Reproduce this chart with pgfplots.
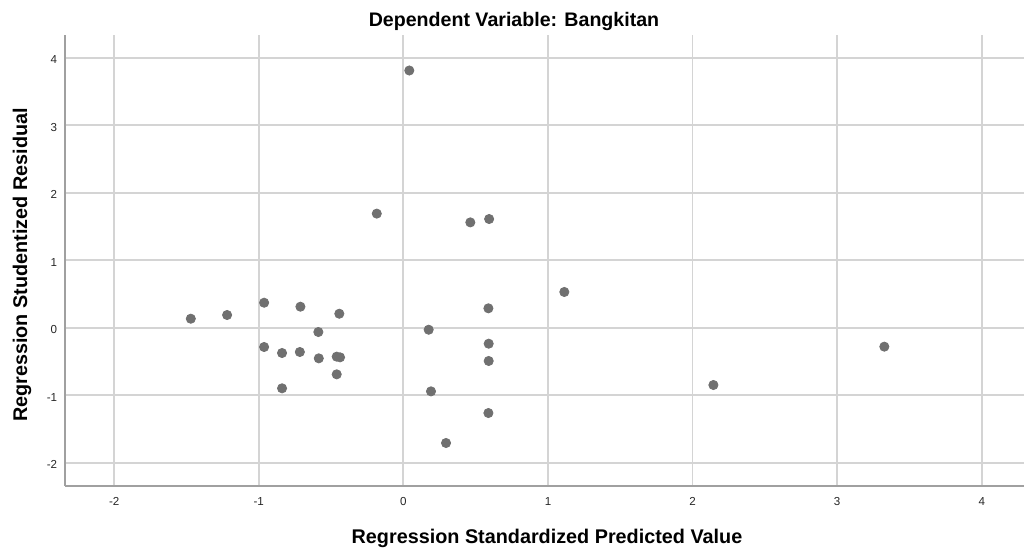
\documentclass[border=0pt]{standalone}
\usepackage{fontspec}
\setmainfont{Liberation Sans}
\usepackage{pgfplots}
\pgfplotsset{compat=1.18}
\definecolor{gridc}{HTML}{D4D4D4}
\definecolor{axc}{HTML}{A0A0A0}
\definecolor{dotc}{HTML}{707070}
\begin{document}
\begin{tikzpicture}
\path[use as bounding box] (0,0) rectangle (512pt,275.5pt);
\begin{axis}[
  at={(32.5pt,32.5pt)}, anchor=south west,
  scale only axis, width=479.5pt, height=225.5pt,
  xmin=-2.34, xmax=4.292, ymin=-2.345, ymax=4.336,
  axis lines=left,
  axis line style={draw=axc, line width=0.8pt, -},
  grid=major,
  grid style={draw=gridc, line width=0.9pt},
  major tick length=0pt,
  xtick={-2,-1,0,1,2,3,4},
  xticklabels={-2,-1,0,1,2,3,4},
  ytick={-2,-1,0,1,2,3,4},
  yticklabels={-2,-1,0,1,2,3,4},
  tick label style={font=\fontsize{5.8}{7}\selectfont, text=black!85, inner sep=0pt},
  xticklabel style={anchor=north, yshift=-5.5pt},
  yticklabel style={anchor=east, xshift=-3.75pt, yshift=-1pt},
]
\addplot[only marks, color=dotc, mark=*, mark size=2.3pt] coordinates {
(0.041,3.81) (-0.184,1.69) (0.463,1.56) (0.593,1.61)
(-1.470,0.133) (-1.219,0.188) (-0.963,0.370) (-0.712,0.311) (-0.443,0.207)
(-0.588,-0.064) (-0.963,-0.286) (-0.839,-0.375) (-0.716,-0.360) (-0.585,-0.454)
(-0.461,-0.429) (-0.438,-0.439) (-0.461,-0.691) (-0.839,-0.898)
(0.175,-0.030) (0.191,-0.943) (0.295,-1.708)
(0.588,0.287) (0.590,-0.237) (0.590,-0.493) (0.588,-1.264)
(1.113,0.529) (2.144,-0.849) (3.326,-0.281)
};
\end{axis}
\node[anchor=base, font=\bfseries\fontsize{9.8}{11}\selectfont, inner sep=0pt] at (257pt,262.15pt) {Dependent Variable: Bangkitan};
\node[anchor=base, font=\bfseries\fontsize{9.9}{12}\selectfont, inner sep=0pt] at (273.5pt,3.85pt) {Regression Standardized Predicted Value};
\node[anchor=base, rotate=90, font=\bfseries\fontsize{9.9}{12}\selectfont, inner sep=0pt] at (13.5pt,143pt) {Regression Studentized Residual};
\end{tikzpicture}
\end{document}
